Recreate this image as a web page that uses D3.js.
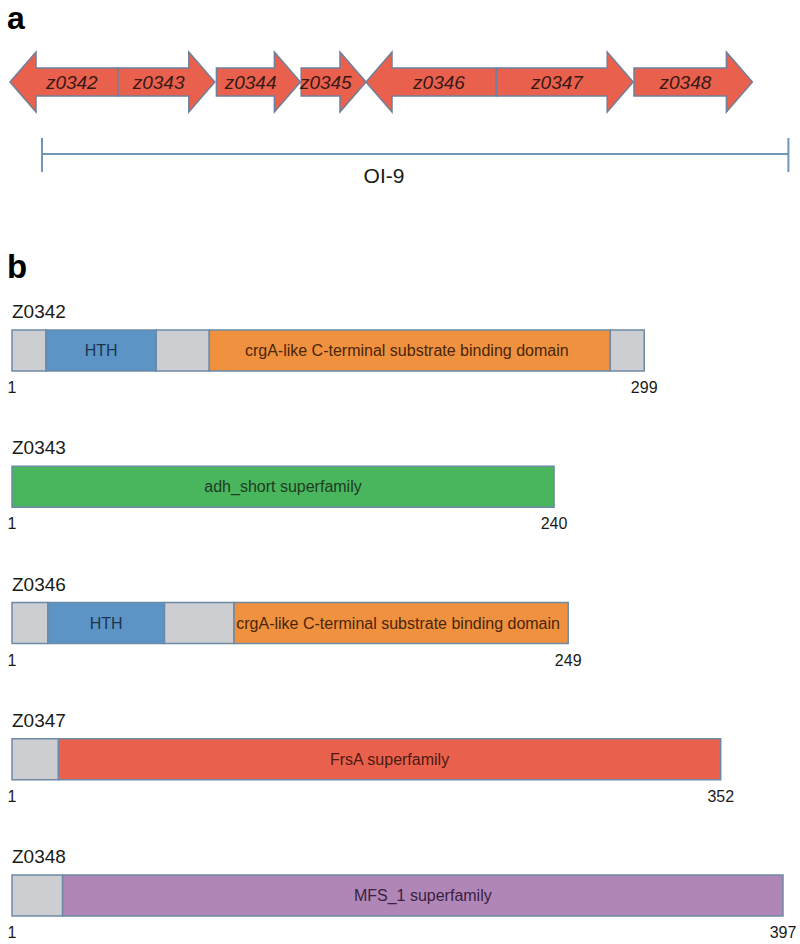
<!DOCTYPE html>
<html>
<head>
<meta charset="utf-8">
<script src="https://cdn.jsdelivr.net/npm/d3@7"></script>
<style>
  body { margin: 0; background: #fff; }
  text { font-family: Arial, "Liberation Sans", sans-serif; }
</style>
</head>
<body>
<div id="viz"></div>
<script>
// panel a: genes of the island, in arbitrary map units (kb-like)
const genes = ['z0342', 'z0343', 'z0344', 'z0345', 'z0346', 'z0347', 'z0348'];
const geneStart = [0, 1.35, 2.58, 3.64, 4.45, 6.08, 7.80];
const geneEnd = [1.35, 2.56, 3.63, 4.45, 6.08, 7.79, 9.28];
const geneStrand = [-1, 1, 1, 1, -1, 1, 1];
const islandName = 'OI-9';
const islandSpan = [0.4, 9.73];

// panel b: proteins and their domains (residues)
const proteins = ['Z0342', 'Z0343', 'Z0346', 'Z0347', 'Z0348'];
const proteinLength = [299, 240, 249, 352, 397];
const domainProtein = ['Z0342', 'Z0342', 'Z0342', 'Z0342', 'Z0342', 'Z0343',
  'Z0346', 'Z0346', 'Z0346', 'Z0346', 'Z0347', 'Z0347', 'Z0348', 'Z0348'];
const domainKind = ['none', 'HTH', 'none', 'crgA', 'none', 'adh',
  'none', 'HTH', 'none', 'crgA', 'none', 'FrsA', 'none', 'MFS'];
const domainLabel = ['', 'HTH', '', 'crgA-like C-terminal substrate binding domain', '', 'adh_short superfamily',
  '', 'HTH', '', 'crgA-like C-terminal substrate binding domain', '', 'FrsA superfamily', '', 'MFS_1 superfamily'];
const domainFrom = [1, 17, 69, 94, 283, 1, 1, 17, 69, 100, 1, 24, 1, 27];
const domainTo = [17, 69, 94, 283, 299, 240, 17, 69, 100, 249, 24, 352, 27, 397];

const width = 800, height = 944;

const svg = d3.select('#viz').append('svg')
  .attr('width', width)
  .attr('height', height);

// ---- panel a ----
svg.append('text').attr('x', 7).attr('y', 29)
  .style('font-size', '32px').style('font-weight', 'bold').text('a');

const xGene = d3.scaleLinear().domain([0, 9.75]).range([10, 790]);
const cy = 82, head = 26, headHalf = 30, bodyHalf = 14;

function arrowPoints(s, e, dir) {
  if (dir > 0) {
    return [[s, cy - bodyHalf], [e - head, cy - bodyHalf], [e - head, cy - headHalf], [e, cy],
      [e - head, cy + headHalf], [e - head, cy + bodyHalf], [s, cy + bodyHalf]];
  }
  return [[e, cy - bodyHalf], [s + head, cy - bodyHalf], [s + head, cy - headHalf], [s, cy],
    [s + head, cy + headHalf], [s + head, cy + bodyHalf], [e, cy + bodyHalf]];
}

const line = d3.line();
const geneData = genes.map((g, i) => ({ name: g, s: geneStart[i], e: geneEnd[i], dir: geneStrand[i] }));

const ga = svg.append('g');
ga.selectAll('path.gene').data(geneData).join('path')
  .attr('class', 'gene')
  .attr('d', d => line(arrowPoints(xGene(d.s), xGene(d.e), d.dir)) + 'Z')
  .attr('fill', '#e9614d')
  .attr('stroke', '#6f7f9c')
  .attr('stroke-width', 1.5)
  .attr('stroke-linejoin', 'miter');

ga.selectAll('text.gene').data(geneData).join('text')
  .attr('class', 'gene')
  .attr('x', d => (xGene(d.s) + xGene(d.e)) / 2 - d.dir * head * 0.3)
  .attr('y', cy)
  .attr('dy', '0.36em')
  .attr('text-anchor', 'middle')
  .style('font-size', '19px')
  .style('font-style', 'italic')
  .attr('fill', '#3a1816')
  .text(d => d.name);

// island bracket
const isl = svg.append('g').attr('stroke', '#7096b8').attr('stroke-width', 2);
isl.append('line')
  .attr('x1', xGene(islandSpan[0])).attr('x2', xGene(islandSpan[1]))
  .attr('y1', 154).attr('y2', 154);
isl.selectAll('line.tick').data(islandSpan).join('line')
  .attr('class', 'tick')
  .attr('x1', d => xGene(d)).attr('x2', d => xGene(d))
  .attr('y1', 138).attr('y2', 172);
svg.append('text')
  .attr('x', 384).attr('y', 183)
  .attr('text-anchor', 'middle')
  .style('font-size', '21px')
  .attr('fill', '#1a1a1a')
  .text(islandName);

// ---- panel b ----
svg.append('text').attr('x', 7).attr('y', 278)
  .style('font-size', '33px').style('font-weight', 'bold').text('b');

// drawn bar length grows with protein length (schematic, not strictly linear)
const lengthScale = d3.scalePow().exponent(0.7)
  .domain([0, d3.max(proteinLength)]).range([12, 783]);
const yRow = d3.scalePoint().domain(proteins).range([330, 875]);
const barH = 41;

const color = d3.scaleOrdinal()
  .domain(['none', 'HTH', 'crgA', 'adh', 'FrsA', 'MFS'])
  .range(['#cdced2', '#5b94c5', '#f0913f', '#49b55c', '#e9604c', '#b086b6']);
const textColor = d3.scaleOrdinal()
  .domain(['HTH', 'crgA', 'adh', 'FrsA', 'MFS'])
  .range(['#1c3552', '#4a260a', '#1d3d22', '#4e1a12', '#3a2142']);

proteins.forEach((p, i) => {
  const len = proteinLength[i];
  const top = yRow(p);
  const rowX = d3.scaleLinear().domain([1, len]).range([lengthScale(0), lengthScale(len)]);
  const g = svg.append('g');

  g.append('text')
    .attr('x', 12).attr('y', top - 12)
    .style('font-size', '19px')
    .attr('fill', '#1a1a1a')
    .text(p);

  const segs = domainProtein.map((dp, j) => dp === p ? j : -1).filter(j => j >= 0)
    .map(j => ({ kind: domainKind[j], label: domainLabel[j], from: domainFrom[j], to: domainTo[j] }));

  g.selectAll('rect').data(segs).join('rect')
    .attr('x', d => rowX(d.from))
    .attr('y', top)
    .attr('width', d => rowX(d.to) - rowX(d.from))
    .attr('height', barH)
    .attr('fill', d => color(d.kind))
    .attr('stroke', '#6e8aa6')
    .attr('stroke-width', 1.5);

  g.selectAll('text.dom').data(segs.filter(d => d.label)).join('text')
    .attr('class', 'dom')
    .attr('x', d => (rowX(d.from) + rowX(d.to)) / 2 - (d.kind === 'crgA' ? 3 : 0))
    .attr('y', top + barH / 2)
    .attr('dy', '0.35em')
    .attr('text-anchor', 'middle')
    .style('font-size', '16px')
    .attr('fill', d => textColor(d.kind))
    .text(d => d.label);

  g.selectAll('text.num').data([1, len]).join('text')
    .attr('class', 'num')
    .attr('x', d => rowX(d))
    .attr('y', top + 63)
    .attr('text-anchor', 'middle')
    .style('font-size', '16px')
    .attr('fill', '#1a1a1a')
    .text(d => d);
});
</script>
</body>
</html>
